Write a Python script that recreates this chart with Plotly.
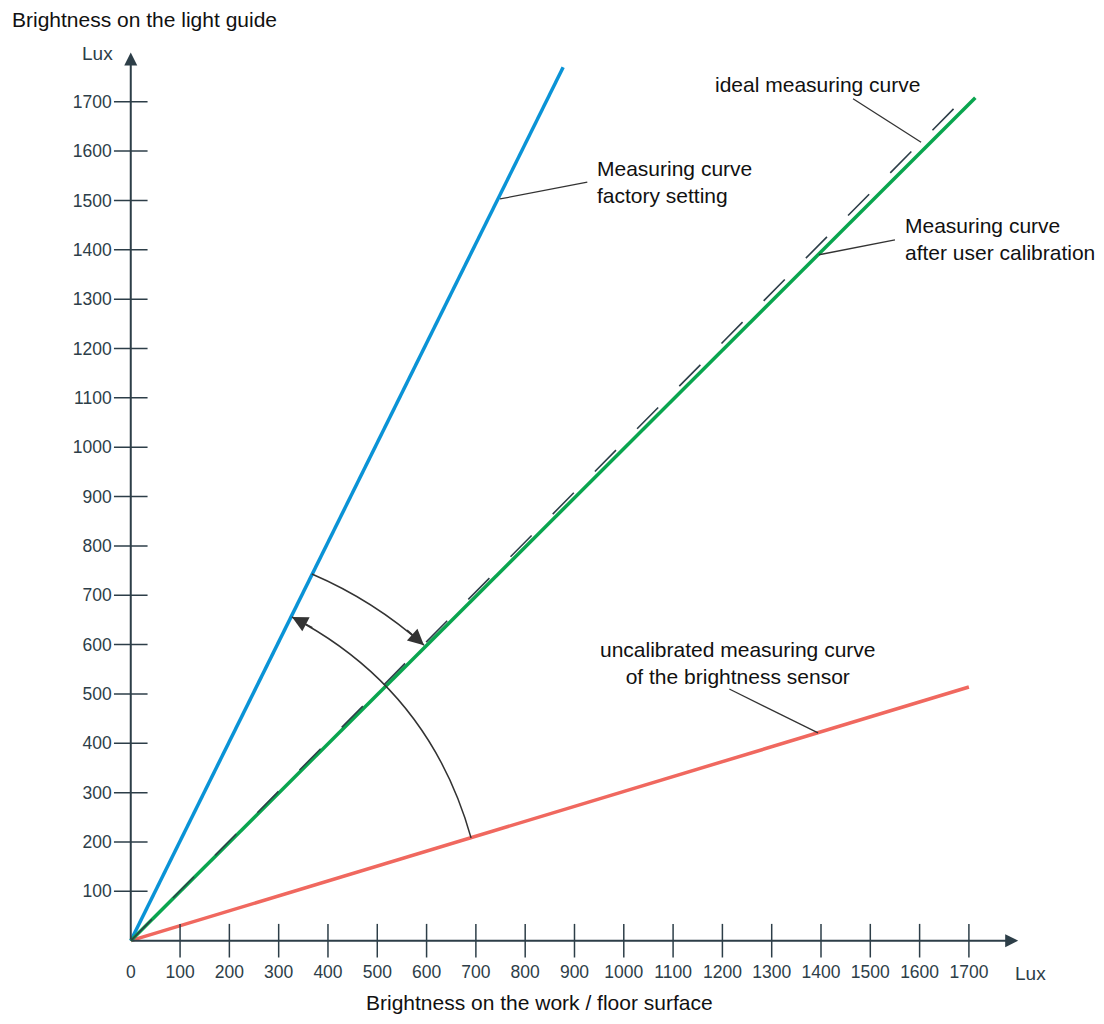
import numpy as np
import plotly.graph_objects as go

# measured curves (lux on work surface -> lux on light guide)
FACTORY_X = [0, 877]
FACTORY_Y = [0, 1770]
USER_X = [0, 1713]
USER_Y = [0, 1708]
IDEAL_X = [0, 1695]
IDEAL_Y = [0, 1712]
UNCAL_X = [0, 1700]
UNCAL_Y = [0, 514]

TICK_VALUES = [100, 200, 300, 400, 500, 600, 700, 800, 900, 1000,
               1100, 1200, 1300, 1400, 1500, 1600, 1700]
X_TICK_LABELS = ["0", "100", "200", "300", "400", "500", "600", "700", "800", "900",
                 "1000", "1100", "1200", "1300", "1400", "1500", "1600", "1700"]
Y_TICK_LABELS = ["100", "200", "300", "400", "500", "600", "700", "800", "900",
                 "1000", "1100", "1200", "1300", "1400", "1500", "1600", "1700"]

# page body has an 8px margin, so the figure is a bit smaller than the window
W, H = 1096, 1008
OFF = 8
X_RANGE = [-249, 1974]
Y_RANGE = [-152.6, 1890]
AXIS_END = 1800

COLORS = {
    "factory": "#0a93d6",
    "user": "#0aa54f",
    "uncal": "#f0685f",
    "ideal": "#2d3e48",
    "axis": "#2d3e48",
    "ink": "#111111",
    "guide": "#333333",
}
FONT = "Liberation Sans, Arial, sans-serif"


def px(p):
    return (p - OFF) / W


def py(p):
    return 1 - (p - OFF) / H


fig = go.Figure()

fig.add_trace(go.Scatter(x=UNCAL_X, y=UNCAL_Y, mode="lines",
                         line=dict(color=COLORS["uncal"], width=3.5)))
fig.add_trace(go.Scatter(x=FACTORY_X, y=FACTORY_Y, mode="lines",
                         line=dict(color=COLORS["factory"], width=3.5)))
fig.add_trace(go.Scatter(x=USER_X, y=USER_Y, mode="lines",
                         line=dict(color=COLORS["user"], width=3.5)))
fig.add_trace(go.Scatter(x=IDEAL_X, y=IDEAL_Y, mode="lines",
                         line=dict(color=COLORS["ideal"], width=1.6, dash="30px,30px")))

# crossing tick marks on both axes
fig.add_trace(go.Scatter(x=TICK_VALUES, y=[0] * len(TICK_VALUES), mode="markers",
                         marker=dict(symbol="line-ns", size=24,
                                     line=dict(color=COLORS["axis"], width=1.5)),
                         cliponaxis=False))
fig.add_trace(go.Scatter(x=[0] * len(TICK_VALUES), y=TICK_VALUES, mode="markers",
                         marker=dict(symbol="line-ew", size=24,
                                     line=dict(color=COLORS["axis"], width=1.5)),
                         cliponaxis=False))

# axis lines with arrow heads
for tip in [(AXIS_END, 0), (0, AXIS_END)]:
    fig.add_annotation(x=tip[0], y=tip[1], ax=0, ay=0, axref="x", ayref="y",
                       xref="x", yref="y", text="", showarrow=True, arrowhead=2,
                       arrowsize=1.3, arrowwidth=2, arrowcolor=COLORS["axis"], standoff=0)


def arc(r0, r1, a0, a1):
    """Quadratic bezier approximating an arc round the origin, plus tail for the arrow."""
    t0, t1 = np.radians(a0), np.radians(a1)
    p0 = np.array([r0 * np.cos(t0), r0 * np.sin(t0)])
    p1 = np.array([r1 * np.cos(t1), r1 * np.sin(t1)])
    rm = (r0 + r1) / 2 / np.cos((t1 - t0) / 2)
    tm = (t0 + t1) / 2
    c = np.array([rm * np.cos(tm), rm * np.sin(tm)])
    path = f"M {p0[0]},{p0[1]} Q {c[0]},{c[1]} {p1[0]},{p1[1]}"
    tail = p1 + (c - p1) / np.linalg.norm(c - p1) * 50
    return path, p1, tail


for r0, r1, a0, a1 in [(829, 844, 63.7, 45.2), (721, 733, 16.8, 63.5)]:
    path, tip, tail = arc(r0, r1, a0, a1)
    fig.add_shape(type="path", path=path, xref="x", yref="y",
                  line=dict(color=COLORS["guide"], width=1.5))
    fig.add_annotation(x=tip[0], y=tip[1], ax=tail[0], ay=tail[1], axref="x", ayref="y",
                       xref="x", yref="y", text="", showarrow=True, arrowhead=2,
                       arrowsize=2.1, arrowwidth=1.5, arrowcolor=COLORS["guide"], standoff=0)

# leader lines from labels to curves
LEADERS = [
    (749, 1503, 926, 1537),
    (1465, 1706, 1603, 1618),
    (1396, 1390, 1550, 1420),
    (1214, 510, 1394, 421),
]
for x0, y0, x1, y1 in LEADERS:
    fig.add_shape(type="line", x0=x0, y0=y0, x1=x1, y1=y1, xref="x", yref="y",
                  line=dict(color=COLORS["guide"], width=1.3))

LABELS = [
    ("Measuring curve<br>factory setting", 942, 1537, "left"),
    ("ideal measuring curve", 1181, 1736, "left"),
    ("Measuring curve<br>after user calibration", 1567, 1422, "left"),
    ("uncalibrated measuring curve<br>of the brightness sensor", 1230, 563, "center"),
]
for text, x, y, anchor in LABELS:
    fig.add_annotation(x=x, y=y, xref="x", yref="y", text=text, showarrow=False,
                       xanchor=anchor, yanchor="middle", align=anchor,
                       font=dict(size=21, color=COLORS["ink"], family=FONT))

fig.add_annotation(x=px(10), y=py(20), xref="paper", yref="paper",
                   text="Brightness on the light guide", showarrow=False,
                   xanchor="left", yanchor="middle",
                   font=dict(size=21, color=COLORS["ink"], family=FONT))
fig.add_annotation(x=px(539), y=0, xref="paper", yref="paper",
                   text="Brightness on the work / floor surface", showarrow=False,
                   xanchor="center", yanchor="bottom",
                   font=dict(size=21, color=COLORS["ink"], family=FONT))
fig.add_annotation(x=px(115), y=py(54), xref="paper", yref="paper",
                   text="Lux", showarrow=False, xanchor="right", yanchor="middle",
                   font=dict(size=19, color=COLORS["axis"], family=FONT))
fig.add_annotation(x=px(1013), y=py(973), xref="paper", yref="paper",
                   text="Lux", showarrow=False, xanchor="left", yanchor="middle",
                   font=dict(size=19, color=COLORS["axis"], family=FONT))

x_pos = (0 - Y_RANGE[0]) / (Y_RANGE[1] - Y_RANGE[0])
y_pos = (0 - X_RANGE[0]) / (X_RANGE[1] - X_RANGE[0])

fig.update_layout(
    width=W, height=H,
    margin=dict(l=0, r=0, t=0, b=0),
    plot_bgcolor="white", paper_bgcolor="white",
    showlegend=False,
    font=dict(family=FONT),
    xaxis=dict(range=X_RANGE, anchor="free", position=x_pos,
               showgrid=False, zeroline=False, showline=False, ticks="",
               tickvals=[0] + TICK_VALUES, ticktext=X_TICK_LABELS,
               tickfont=dict(size=17.5, color=COLORS["axis"], family=FONT),
               ticklabelstandoff=19),
    yaxis=dict(range=Y_RANGE, anchor="free", position=y_pos,
               showgrid=False, zeroline=False, showline=False, ticks="",
               tickvals=TICK_VALUES, ticktext=Y_TICK_LABELS,
               tickfont=dict(size=17.5, color=COLORS["axis"], family=FONT),
               ticklabelstandoff=19),
)

fig.write_html("out.html")
